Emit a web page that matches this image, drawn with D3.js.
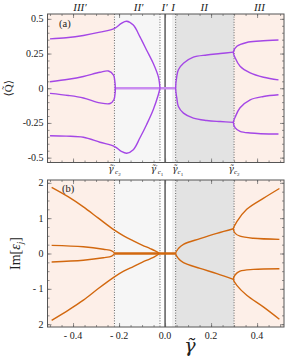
<!DOCTYPE html>
<html>
<head>
<meta charset="utf-8">
<script src="https://cdn.jsdelivr.net/npm/d3@7"></script>
<style>
  body { margin: 0; background: #fff; }
  svg text { font-family: "Liberation Serif", "DejaVu Serif", serif; fill: #222; }
  svg text .gam, svg text.gam { font-family: "DejaVu Serif", serif; font-style: italic; }
</style>
</head>
<body>
<div id="chart"></div>
<script>
// Data
// ================================
// critical points (x positions of the dotted lines)
var gC2p = -0.22, gC1p = -0.022, gC1 = 0.046, gC2 = 0.3;

var regionLabels = ["III\u2032", "II\u2032", "I\u2032", "I", "II", "III"];
var regionLabelX = [-0.37, -0.115, -0.002, 0.035, 0.17, 0.41];

var yTicksA = [0.5, 0.25, 0, -0.25, -0.5];
var yTickLabelsA = ["0.5", "0.25", "0", "-0.25", "-0.5"];
var yTicksB = [2, 1, 0, -1, -2];
var yTickLabelsB = ["2", "1", "0", "- 1", "2"];
var xTicks = [-0.4, -0.2, 0, 0.2, 0.4];
var xTickLabels = ["- 0.4", "- 0.2", "0.0", "0.2", "0.4"];

// panel (a): <Q>
var aOuterUp = [[-0.5, 0.356], [-0.43, 0.364], [-0.355, 0.38], [-0.283, 0.404], [-0.219, 0.432], [-0.19, 0.468],
  [-0.167, 0.483], [-0.138, 0.455], [-0.109, 0.37], [-0.08, 0.274], [-0.051, 0.178], [-0.029, 0.082], [-0.022, 0.0]];
var aOuterDn = [[-0.5, -0.342], [-0.43, -0.345], [-0.355, -0.353], [-0.283, -0.389], [-0.219, -0.42], [-0.19, -0.455],
  [-0.167, -0.468], [-0.138, -0.443], [-0.109, -0.357], [-0.08, -0.261], [-0.051, -0.153], [-0.029, -0.045], [-0.022, 0.0]];
var aInnerLeft = [[-0.5, 0.047], [-0.42, 0.065], [-0.355, 0.085], [-0.283, 0.115], [-0.246, 0.124], [-0.224, 0.094],
  [-0.219, 0.058], [-0.216, 0.0], [-0.217, -0.033], [-0.222, -0.081], [-0.239, -0.11], [-0.283, -0.105],
  [-0.355, -0.07], [-0.42, -0.052], [-0.5, -0.037]];
var aZero = [[gC2p, 0], [gC1, 0]];
var aMid = [[0.297, 0.26], [0.24, 0.25], [0.181, 0.24], [0.123, 0.224], [0.08, 0.18], [0.058, 0.133], [0.051, 0.086],
  [0.046, 0.0], [0.051, -0.07], [0.058, -0.131], [0.08, -0.179], [0.123, -0.215], [0.181, -0.232], [0.24, -0.24], [0.297, -0.246]];
var aRightUp = [[0.493, 0.348], [0.413, 0.34], [0.355, 0.33], [0.312, 0.302], [0.297, 0.26], [0.305, 0.218],
  [0.326, 0.158], [0.37, 0.11], [0.428, 0.079], [0.493, 0.06]];
var aRightDn = [[0.493, -0.047], [0.428, -0.059], [0.37, -0.083], [0.326, -0.141], [0.305, -0.207], [0.297, -0.246],
  [0.305, -0.285], [0.326, -0.31], [0.37, -0.322], [0.493, -0.33]];

// panel (b): Im[eps_j]
var bOuterUp = [[-0.493, 1.87], [-0.42, 1.6], [-0.355, 1.32], [-0.29, 1.0], [-0.22, 0.66], [-0.18, 0.5], [-0.138, 0.36],
  [-0.1, 0.24], [-0.065, 0.14], [-0.043, 0.075], [-0.024, 0.0]];
var bOuterDn = [[-0.493, -1.89], [-0.42, -1.6], [-0.355, -1.32], [-0.29, -0.99], [-0.22, -0.66], [-0.18, -0.5], [-0.138, -0.37],
  [-0.1, -0.25], [-0.065, -0.15], [-0.043, -0.08], [-0.024, 0.0]];
var bInnerLeft = [[-0.493, 0.23], [-0.355, 0.19], [-0.268, 0.12], [-0.232, 0.075], [-0.22, 0.0], [-0.232, -0.072],
  [-0.268, -0.12], [-0.355, -0.19], [-0.493, -0.24]];
var bZero = [[gC2p, 0], [gC1, 0]];
var bMid = [[0.297, 0.7], [0.225, 0.57], [0.152, 0.42], [0.08, 0.26], [0.058, 0.14], [0.046, 0.0],
  [0.058, -0.14], [0.08, -0.26], [0.152, -0.42], [0.225, -0.57], [0.297, -0.73]];
var bRightUp = [[0.497, 1.84], [0.427, 1.56], [0.355, 1.25], [0.312, 0.9], [0.297, 0.7], [0.305, 0.57],
  [0.326, 0.49], [0.384, 0.43], [0.497, 0.4]];
var bRightDn = [[0.497, -0.43], [0.384, -0.45], [0.326, -0.5], [0.305, -0.6], [0.297, -0.73], [0.312, -0.9],
  [0.355, -1.18], [0.427, -1.51], [0.497, -1.86]];

// Step 1: chart setup
// ================================
var svgWidth = 291, svgHeight = 359;
var left = 47.5, right = 284;
var panelA = { top: 14, bottom: 162.5, domain: [-0.535, 0.535] };
var panelB = { top: 180, bottom: 327, domain: [-2.08, 2.08] };

var purple = "#a447e6", purpleLight = "#c98cf0";
var orange = "#d2680f";

var svg = d3.select("#chart").append("svg")
  .attr("width", svgWidth)
  .attr("height", svgHeight);

var x = d3.scaleLinear().domain([-0.511, 0.517]).range([left, right]);

var regions = [
  { x0: -0.511, x1: gC2p, fill: "#fdefe8" },
  { x0: gC2p, x1: gC1p, fill: "#f6f6f6" },
  { x0: 0.03, x1: gC1, fill: "#f1f1f1" },
  { x0: gC1, x1: gC2, fill: "#e3e3e3" },
  { x0: gC2, x1: 0.517, fill: "#fdefe8" }
];

var line = d3.line().curve(d3.curveCatmullRom.alpha(0.5));

function drawPanel(p, name, curves, color, zeroColor, yTicks, yLabels, minorStep) {
  var y = d3.scaleLinear().domain(p.domain).range([p.bottom, p.top]);
  var g = svg.append("g");

  g.append("clipPath").attr("id", "clip" + name)
    .append("rect").attr("x", left).attr("y", p.top)
    .attr("width", right - left).attr("height", p.bottom - p.top);

  g.selectAll(".bg").data(regions).enter().append("rect")
    .attr("x", d => x(d.x0)).attr("width", d => x(d.x1) - x(d.x0))
    .attr("y", p.top).attr("height", p.bottom - p.top)
    .attr("fill", d => d.fill);

  // dotted critical lines, solid line at zero
  g.selectAll(".crit").data([gC2p, gC1p, gC1, gC2]).enter().append("line")
    .attr("x1", d => x(d)).attr("x2", d => x(d))
    .attr("y1", p.top).attr("y2", p.bottom)
    .attr("stroke", "#555").attr("stroke-width", 0.9).attr("stroke-dasharray", "1,1.6");
  g.append("line").attr("x1", x(0)).attr("x2", x(0)).attr("y1", p.top).attr("y2", p.bottom)
    .attr("stroke", "#333").attr("stroke-width", 1.2);

  var cg = g.append("g").attr("clip-path", "url(#clip" + name + ")");
  cg.append("path").attr("d", line(curves.zero.map(d => [x(d[0]), y(d[1])])))
    .attr("fill", "none").attr("stroke", zeroColor).attr("stroke-width", 2.6);
  curves.lines.forEach(function (c) {
    cg.append("path").attr("d", line(c.map(d => [x(d[0]), y(d[1])])))
      .attr("fill", "none").attr("stroke", color).attr("stroke-width", 1.4);
  });

  // axes: inward ticks on all four sides
  var minorY = d3.range(p.domain[0] < -1 ? -2 : -0.5, (p.domain[0] < -1 ? 2 : 0.5) + 1e-9, minorStep);
  var minorX = d3.range(-0.5, 0.5001, 0.05);
  g.append("g").attr("transform", `translate(${left},0)`)
    .call(d3.axisLeft(y).tickValues(minorY).tickSize(-2).tickFormat(""));
  g.append("g").attr("transform", `translate(${left},0)`)
    .call(d3.axisLeft(y).tickValues(yTicks).tickSize(-4).tickFormat(""));
  g.append("g").attr("transform", `translate(${right},0)`)
    .call(d3.axisRight(y).tickValues(minorY).tickSize(-2).tickFormat(""));
  g.append("g").attr("transform", `translate(${right},0)`)
    .call(d3.axisRight(y).tickValues(yTicks).tickSize(-4).tickFormat(""));
  g.append("g").attr("transform", `translate(0,${p.bottom})`)
    .call(d3.axisBottom(x).tickValues(minorX).tickSize(-2).tickFormat(""));
  g.append("g").attr("transform", `translate(0,${p.bottom})`)
    .call(d3.axisBottom(x).tickValues(xTicks).tickSize(-4).tickFormat(""));
  g.append("g").attr("transform", `translate(0,${p.top})`)
    .call(d3.axisTop(x).tickValues(minorX).tickSize(-2).tickFormat(""));
  g.append("g").attr("transform", `translate(0,${p.top})`)
    .call(d3.axisTop(x).tickValues(xTicks).tickSize(-4).tickFormat(""));
  g.selectAll(".domain").remove();
  g.selectAll(".tick line").attr("stroke", "#666").attr("stroke-width", 0.7);

  g.append("rect").attr("x", left).attr("y", p.top)
    .attr("width", right - left).attr("height", p.bottom - p.top)
    .attr("fill", "none").attr("stroke", "#555").attr("stroke-width", 1);

  g.selectAll(".ylab").data(yTicks).enter().append("text")
    .attr("x", left - 4).attr("y", d => y(d) + 3.5)
    .attr("text-anchor", "end").attr("font-size", 10)
    .text((d, i) => yLabels[i]);

  return y;
}

// Step 2: panel (a)
// ================================
var yA = drawPanel(panelA, "A",
  { zero: aZero, lines: [aOuterUp, aOuterDn, aInnerLeft, aMid, aRightUp, aRightDn] },
  purple, purpleLight, yTicksA, yTickLabelsA, 0.05);

svg.append("text").attr("x", 59).attr("y", 27).attr("font-size", 10.5).text("(a)");

svg.selectAll(".region").data(regionLabels).enter().append("text")
  .attr("x", (d, i) => x(regionLabelX[i])).attr("y", 11)
  .attr("text-anchor", "middle").attr("font-size", 11).attr("font-style", "italic")
  .text(d => d);

// gamma labels under panel (a)
var gammaLabels = [
  { v: gC2p, prime: true, sub: "2", dx: 0 },
  { v: gC1p, prime: true, sub: "1", dx: -3 },
  { v: gC1, prime: false, sub: "1", dx: 2 },
  { v: gC2, prime: false, sub: "2", dx: 0 }
];
gammaLabels.forEach(function (d) {
  var t = svg.append("text").attr("x", x(d.v) + d.dx).attr("y", 172)
    .attr("text-anchor", "middle").attr("font-size", 9);
  t.append("tspan").attr("class", "gam").text("\u03b3\u0303");
  if (d.prime) t.append("tspan").attr("dy", -3).attr("font-size", 7).text("\u2032");
  t.append("tspan").attr("dy", d.prime ? 5 : 2).attr("font-size", 7).attr("font-style", "italic").text("c");
  t.append("tspan").attr("dy", 1.5).attr("font-size", 5).text(d.sub);
});

svg.append("text")
  .attr("transform", `translate(12,${yA(0)}) rotate(-90)`)
  .attr("text-anchor", "middle").attr("font-size", 11)
  .text("\u27e8Q\u0303\u27e9");

// Step 3: panel (b)
// ================================
var yB = drawPanel(panelB, "B",
  { zero: bZero, lines: [bOuterUp, bOuterDn, bInnerLeft, bMid, bRightUp, bRightDn] },
  orange, orange, yTicksB, yTickLabelsB, 0.25);

svg.append("text").attr("x", 62).attr("y", 192).attr("font-size", 10.5).text("(b)");

svg.selectAll(".xlab").data(xTicks).enter().append("text")
  .attr("x", d => x(d)).attr("y", 339)
  .attr("text-anchor", "middle").attr("font-size", 10)
  .text((d, i) => xTickLabels[i]);

var yt = svg.append("text")
  .attr("transform", `translate(20,${yB(0)}) rotate(-90)`)
  .attr("text-anchor", "middle").attr("font-size", 14);
yt.append("tspan").text("Im[");
yt.append("tspan").attr("font-style", "italic").text("\u03b5");
yt.append("tspan").attr("font-style", "italic").attr("font-size", 9).attr("dy", 3).text("j");
yt.append("tspan").attr("dy", -3).text("]");

svg.append("text").attr("class", "gam").attr("x", 190).attr("y", 352)
  .attr("text-anchor", "middle").attr("font-size", 19)
  .text("\u03b3\u0303");
</script>
</body>
</html>
